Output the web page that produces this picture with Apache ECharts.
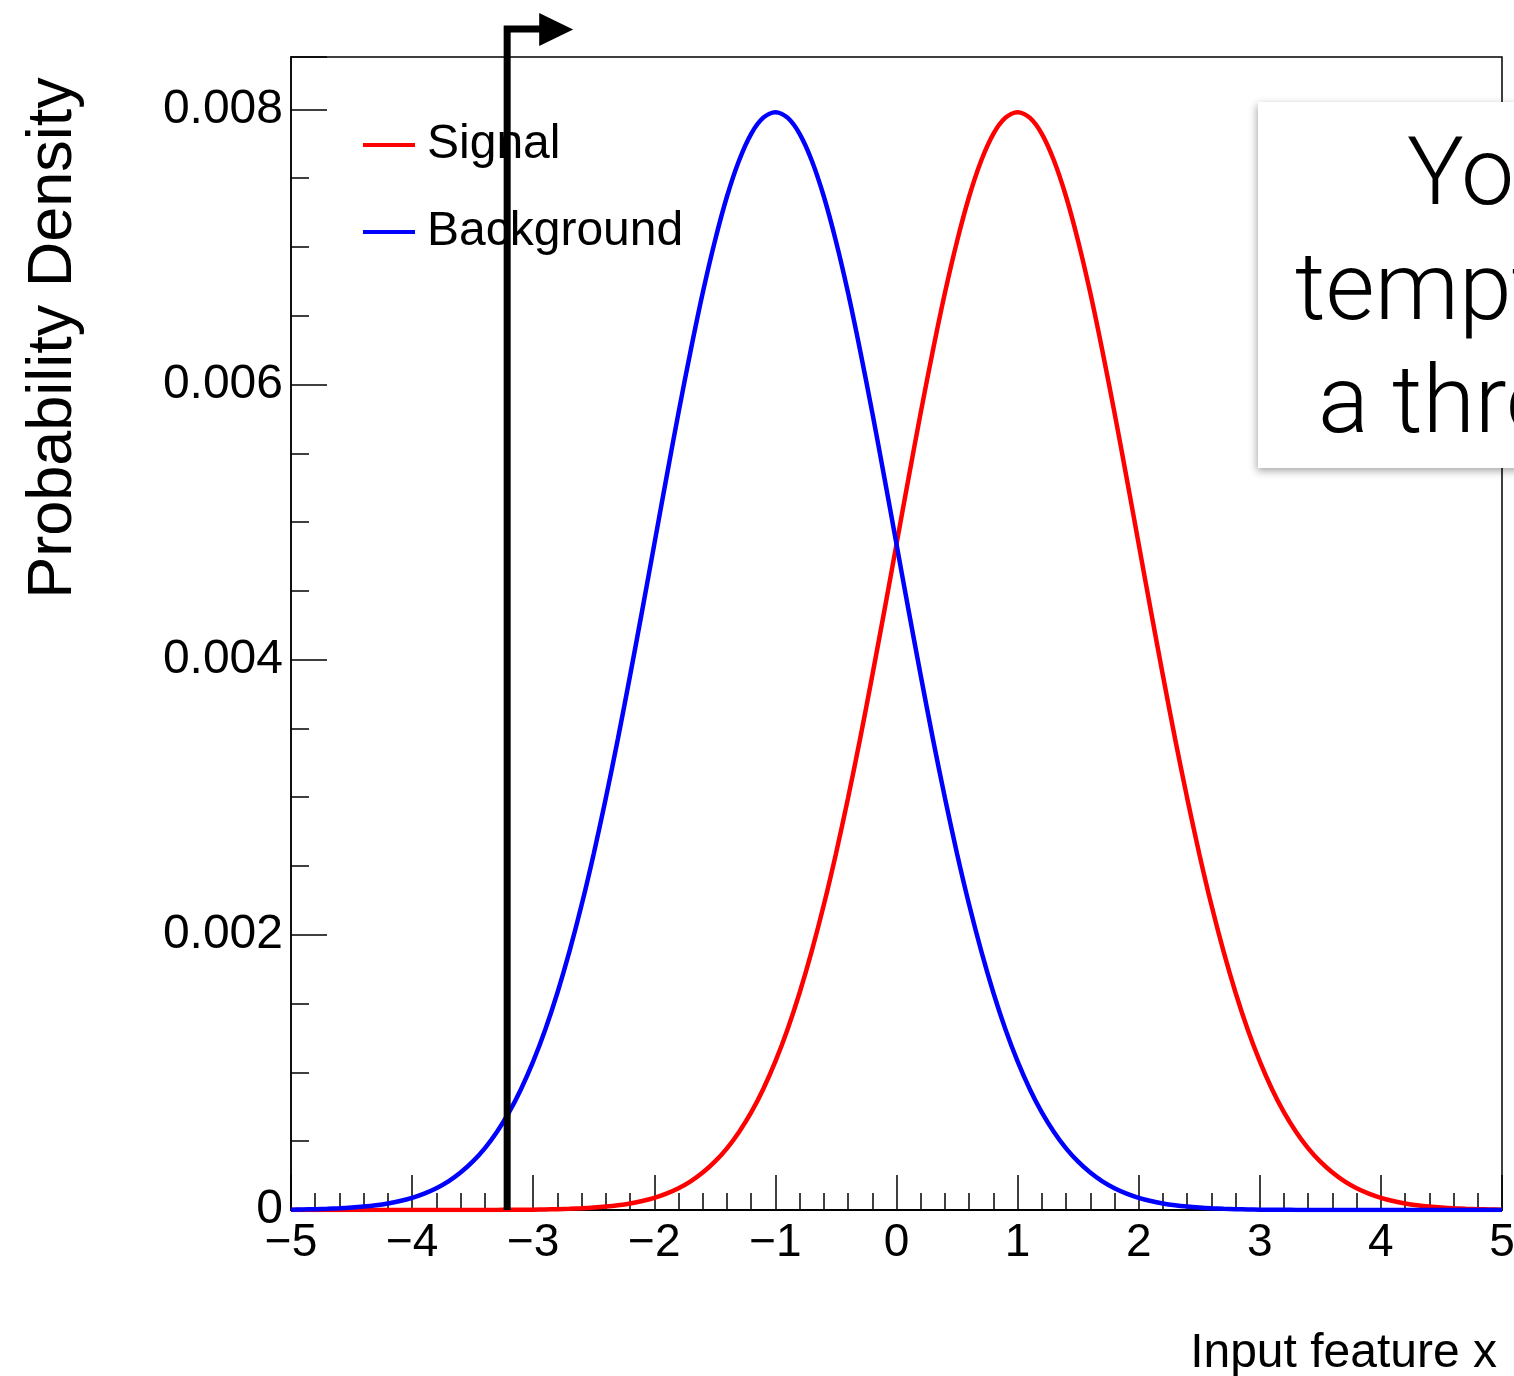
<!DOCTYPE html>
<html>
<head>
<meta charset="utf-8">
<script src="https://cdn.jsdelivr.net/npm/echarts@6/dist/echarts.min.js"></script>
<style>
html,body{margin:0;padding:0;background:#fff;}
#chart{width:1514px;height:1376px;}
</style>
</head>
<body>
<div id="chart"></div>
<script>
// x positions (feature value, bin centres every 0.1)
const xValues = [-5,-4.9,-4.8,-4.7,-4.6,-4.5,-4.4,-4.3,-4.2,-4.1,
  -4,-3.9,-3.8,-3.7,-3.6,-3.5,-3.4,-3.3,-3.2,-3.1,
  -3,-2.9,-2.8,-2.7,-2.6,-2.5,-2.4,-2.3,-2.2,-2.1,
  -2,-1.9,-1.8,-1.7,-1.6,-1.5,-1.4,-1.3,-1.2,-1.1,
  -1,-0.9,-0.8,-0.7,-0.6,-0.5,-0.4,-0.3,-0.2,-0.1,
  0,0.1,0.2,0.3,0.4,0.5,0.6,0.7,0.8,0.9,
  1,1.1,1.2,1.3,1.4,1.5,1.6,1.7,1.8,1.9,
  2,2.1,2.2,2.3,2.4,2.5,2.6,2.7,2.8,2.9,
  3,3.1,3.2,3.3,3.4,3.5,3.6,3.7,3.8,3.9,
  4,4.1,4.2,4.3,4.4,4.5,4.6,4.7,4.8,4.9,5];
// Signal probability density
const signalValues = [0,0,0,0,0,0,0,0,0,0,
  0,0,0.0000001,0.0000001,0.0000002,0.0000003,0.0000005,0.0000008,0.0000012,0.0000018,
  0.0000027,0.000004,0.0000058,0.0000085,0.0000122,0.0000175,0.0000247,0.0000345,0.0000477,0.0000653,
  0.0000886,0.000119,0.000158,0.000208,0.000272,0.000351,0.000448,0.000567,0.000709,0.00088,
  0.00108,0.001312,0.001579,0.001881,0.002218,0.00259,0.002995,0.003427,0.003885,0.004357,
  0.00484,0.005322,0.005795,0.006245,0.006666,0.007041,0.007366,0.007628,0.007822,0.007939,
  0.007979,0.007939,0.007822,0.007628,0.007366,0.007041,0.006666,0.006245,0.005795,0.005322,
  0.00484,0.004357,0.003885,0.003427,0.002995,0.00259,0.002218,0.001881,0.001579,0.001312,
  0.00108,0.00088,0.000709,0.000567,0.000448,0.000351,0.000272,0.000208,0.000158,0.000119,
  0.0000886,0.0000653,0.0000477,0.0000345,0.0000247,0.0000175,0.0000122,0.0000085,0.0000058,0.000004,
  0.0000027];
// Background probability density
const backgroundValues = [0.0000027,0.000004,0.0000058,0.0000085,0.0000122,0.0000175,0.0000247,0.0000345,0.0000477,0.0000653,
  0.0000886,0.000119,0.000158,0.000208,0.000272,0.000351,0.000448,0.000567,0.000709,0.00088,
  0.00108,0.001312,0.001579,0.001881,0.002218,0.00259,0.002995,0.003427,0.003885,0.004357,
  0.00484,0.005322,0.005795,0.006245,0.006666,0.007041,0.007366,0.007628,0.007822,0.007939,
  0.007979,0.007939,0.007822,0.007628,0.007366,0.007041,0.006666,0.006245,0.005795,0.005322,
  0.00484,0.004357,0.003885,0.003427,0.002995,0.00259,0.002218,0.001881,0.001579,0.001312,
  0.00108,0.00088,0.000709,0.000567,0.000448,0.000351,0.000272,0.000208,0.000158,0.000119,
  0.0000886,0.0000653,0.0000477,0.0000345,0.0000247,0.0000175,0.0000122,0.0000085,0.0000058,0.000004,
  0.0000027,0.0000018,0.0000012,0.0000008,0.0000005,0.0000003,0.0000002,0.0000001,0.0000001,0,
  0,0,0,0,0,0,0,0,0,0,
  0];
const thresholdX = -3.215;
const seriesNames = ['Signal', 'Background'];
const xAxisTitle = 'Input feature x';
const yAxisTitle = 'Probability Density';
const boxLines = ['You', 'tempted', 'a threshold'];

const FONT = '"Liberation Sans", Arial, Helvetica, sans-serif';
const chart = echarts.init(document.getElementById('chart'), null, {renderer: 'canvas'});

const pair = (xs, ys) => xs.map((x, i) => [x, ys[i]]);

const option = {
  backgroundColor: '#fff',
  animation: false,
  textStyle: {fontFamily: FONT},
  grid: {left: 291, right: 12, top: 57, bottom: 166, show: true, borderColor: '#000', borderWidth: 1.5,
         containLabel: false, outerBoundsMode: 'none'},
  legend: {
    orient: 'vertical',
    left: 358, top: 116,
    itemWidth: 52, itemHeight: 4, itemGap: 39,
    icon: 'rect',
    data: seriesNames,
    textStyle: {fontFamily: FONT, fontSize: 48, color: '#000', lineHeight: 48, padding: [0, 0, 0, 7]}
  },
  xAxis: {
    type: 'value', min: -5, max: 5, interval: 1,
    axisLine: {show: true, onZero: false, lineStyle: {color: '#000', width: 2}},
    axisTick: {show: true, inside: true, length: 35, lineStyle: {color: '#000', width: 1.5}},
    minorTick: {show: true, splitNumber: 5, length: 17, lineStyle: {color: '#000', width: 1.5}},
    splitLine: {show: false},
    axisLabel: {
      fontFamily: FONT, fontSize: 46, color: '#000', margin: 10,
      formatter: v => (v < 0 ? '\u2212' + Math.abs(v) : String(v))
    }
  },
  yAxis: {
    type: 'value', min: 0, max: 0.00838, interval: 0.002,
    axisLine: {show: true, onZero: false, lineStyle: {color: '#000', width: 1.5}},
    axisTick: {show: true, inside: true, length: 36, lineStyle: {color: '#000', width: 1.5}},
    minorTick: {show: true, splitNumber: 4, length: 18, lineStyle: {color: '#000', width: 1.5}},
    splitLine: {show: false},
    axisLabel: {
      fontFamily: FONT, fontSize: 48, color: '#000', margin: 8, showMaxLabel: false,
      formatter: v => (v === 0 ? '0' : (v > 0.0081 ? '' : v.toFixed(3)))
    }
  },
  series: [
    {
      name: seriesNames[0], type: 'line', data: pair(xValues, signalValues),
      showSymbol: false, smooth: 0.3, color: '#ff0000',
      lineStyle: {color: '#ff0000', width: 4.5}, z: 3
    },
    {
      name: seriesNames[1], type: 'line', data: pair(xValues, backgroundValues),
      showSymbol: false, smooth: 0.3, color: '#0000ff',
      lineStyle: {color: '#0000ff', width: 4.5}, z: 4
    }
  ]
};
chart.setOption(option);

// Threshold arrow placed via the axis scales
const px = chart.convertToPixel({xAxisIndex: 0}, thresholdX);
const py0 = chart.convertToPixel({yAxisIndex: 0}, 0);
const boxFont = '300 95px Roboto, "Liberation Sans", sans-serif';
chart.setOption({
  graphic: [
    {
      type: 'polyline', z: 100,
      shape: {points: [[px, py0], [px, 29], [px + 36, 29]]},
      style: {stroke: '#000', lineWidth: 7, fill: null, lineJoin: 'miter', lineCap: 'butt'}
    },
    {
      type: 'polygon', z: 100,
      shape: {points: [[px + 32, 13], [px + 32, 46], [px + 66, 29.5]]},
      style: {fill: '#000'}
    },
    {
      type: 'text', z: 100, rotation: Math.PI / 2,
      x: 54, y: 338,
      style: {text: yAxisTitle, font: '63px ' + FONT, fill: '#000', align: 'center', verticalAlign: 'middle'}
    },
    {
      type: 'text', z: 100,
      x: 1497, y: 1354,
      style: {text: xAxisTitle, font: '48px ' + FONT, fill: '#000', align: 'right', verticalAlign: 'middle'}
    },
    {
      type: 'rect', z: 110,
      shape: {x: 1258, y: 102, width: 320, height: 366},
      style: {fill: '#fff', shadowBlur: 8, shadowColor: 'rgba(0,0,0,0.35)', shadowOffsetX: -1, shadowOffsetY: 3}
    },
    {
      type: 'text', z: 111, x: 1407, y: 180,
      style: {text: boxLines[0], font: boxFont, fill: '#000', align: 'left', verticalAlign: 'middle'}
    },
    {
      type: 'text', z: 111, x: 1295, y: 295,
      style: {text: boxLines[1], font: boxFont, fill: '#000', align: 'left', verticalAlign: 'middle'}
    },
    {
      type: 'text', z: 111, x: 1318, y: 408,
      style: {text: boxLines[2], font: boxFont, fill: '#000', align: 'left', verticalAlign: 'middle'}
    }
  ]
});
</script>
</body>
</html>
